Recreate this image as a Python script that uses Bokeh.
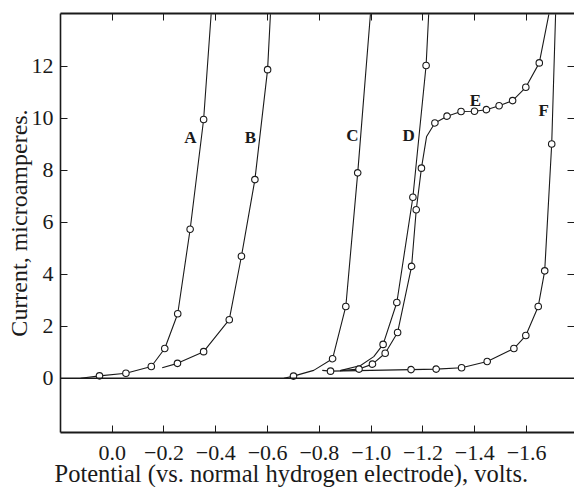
import math
from bokeh.plotting import figure
from bokeh.models import Range1d, LinearAxis, FixedTicker, Span, Label, Title, CustomJSTickFormatter
from bokeh.embed import file_html
from bokeh.resources import INLINE

# Potential (volts vs. NHE) and current (microamperes)
a_line_v = [0.122, 0.049, -0.053, -0.151, -0.203, -0.253, -0.301, -0.353, -0.382]
a_line_i = [0.00, 0.09, 0.19, 0.45, 1.14, 2.48, 5.73, 9.95, 14.0]
a_pts_v = [0.049, -0.053, -0.151, -0.203, -0.253, -0.301, -0.353]
a_pts_i = [0.09, 0.19, 0.45, 1.14, 2.48, 5.73, 9.95]

b_line_v = [-0.193, -0.252, -0.353, -0.452, -0.499, -0.551, -0.600, -0.611]
b_line_i = [0.40, 0.57, 1.02, 2.25, 4.69, 7.64, 11.87, 14.0]
b_pts_v = [-0.252, -0.353, -0.452, -0.499, -0.551, -0.600]
b_pts_i = [0.57, 1.02, 2.25, 4.69, 7.64, 11.87]

c_line_v = [-0.663, -0.700, -0.778, -0.851, -0.902, -0.948, -0.997]
c_line_i = [0.00, 0.08, 0.30, 0.75, 2.76, 7.90, 14.0]
c_pts_v = [-0.700, -0.851, -0.902, -0.948]
c_pts_i = [0.08, 0.75, 2.76, 7.90]

d_line_v = [-0.880, -0.959, -1.010, -1.046, -1.099, -1.161, -1.212, -1.222]
d_line_i = [0.29, 0.49, 0.83, 1.30, 2.91, 6.96, 12.03, 14.0]
d_pts_v = [-1.046, -1.099, -1.161, -1.212]
d_pts_i = [1.30, 2.91, 6.96, 12.03]

e_line_v = [-0.880, -0.953, -1.005, -1.054, -1.102, -1.156, -1.174, -1.194, -1.214,
            -1.246, -1.293, -1.347, -1.399, -1.445, -1.494, -1.546, -1.597, -1.649, -1.686]
e_line_i = [0.29, 0.35, 0.54, 0.96, 1.76, 4.30, 6.48, 8.08, 9.30,
            9.82, 10.08, 10.26, 10.27, 10.33, 10.48, 10.68, 11.19, 12.13, 14.0]
e_pts_v = [-0.953, -1.005, -1.054, -1.102, -1.156, -1.174, -1.194,
           -1.246, -1.293, -1.347, -1.399, -1.445, -1.494, -1.546, -1.597, -1.649]
e_pts_i = [0.35, 0.54, 0.96, 1.76, 4.30, 6.48, 8.08,
           9.82, 10.08, 10.26, 10.27, 10.33, 10.48, 10.68, 11.19, 12.13]

f_line_v = [-0.811, -0.843, -1.154, -1.251, -1.349, -1.448, -1.551, -1.597, -1.645, -1.670, -1.697, -1.712]
f_line_i = [0.30, 0.27, 0.33, 0.35, 0.40, 0.64, 1.14, 1.64, 2.76, 4.13, 9.01, 14.0]
f_pts_v = [-0.843, -1.154, -1.251, -1.349, -1.448, -1.551, -1.597, -1.645, -1.670, -1.697]
f_pts_i = [0.27, 0.33, 0.35, 0.40, 0.64, 1.14, 1.64, 2.76, 4.13, 9.01]

curve_names = ["A", "B", "C", "D", "E", "F"]
name_v = [-0.302, -0.534, -0.927, -1.145, -1.402, -1.666]
name_i = [9.27, 9.27, 9.33, 9.33, 10.68, 10.28]

x_tick_values = [0.0, -0.2, -0.4, -0.6, -0.8, -1.0, -1.2, -1.4, -1.6]
x_tick_labels = ["0.0", "\u22120.2", "\u22120.4", "\u22120.6", "\u22120.8",
                 "\u22121.0", "\u22121.2", "\u22121.4", "\u22121.6"]
y_tick_values = [0, 2, 4, 6, 8, 10, 12]

FONT = "Liberation Serif"
INK = "#1a1a1a"

p = figure(width=574, height=487, output_backend="svg", toolbar_location=None,
           x_range=Range1d(0.1996, -1.785), y_range=Range1d(-2.09, 14.03),
           min_border_left=60, min_border_right=0, min_border_top=13, min_border_bottom=55,
           x_axis_location=None, y_axis_location=None)
p.grid.visible = False
p.outline_line_color = None
p.background_fill_color = "white"
p.border_fill_color = "white"

blank = CustomJSTickFormatter(code="return '';")

def style_axis(ax, show_labels, line=True, width=1.6):
    ax.major_tick_in = 7
    ax.major_tick_out = 0
    ax.minor_tick_in = 0
    ax.minor_tick_out = 0
    ax.major_tick_line_color = INK
    ax.major_tick_line_width = 1
    ax.axis_line_color = INK if line else None
    ax.axis_line_width = width
    ax.major_label_text_font = FONT
    ax.major_label_text_color = INK
    ax.axis_label_text_font = FONT
    ax.axis_label_text_font_style = "normal"
    ax.axis_label_text_color = INK
    if not show_labels:
        ax.formatter = blank
        ax.major_label_standoff = 0

bottom = LinearAxis(ticker=FixedTicker(ticks=x_tick_values))
bottom.major_label_overrides = dict(zip(x_tick_values, x_tick_labels))
style_axis(bottom, True, width=2)
bottom.major_label_text_font_size = "22px"
bottom.major_label_standoff = 13
p.add_layout(bottom, "below")

top = LinearAxis(ticker=FixedTicker(ticks=x_tick_values))
style_axis(top, False, width=2)
p.add_layout(top, "above")

left = LinearAxis(ticker=FixedTicker(ticks=y_tick_values))
style_axis(left, True, width=1.6)
left.major_label_text_font_size = "22px"
left.major_label_standoff = 7
left.axis_label = "Current, microamperes."
left.axis_label_text_font_size = "24px"
left.axis_label_standoff = -3
p.add_layout(left, "left")

right = LinearAxis(ticker=FixedTicker(ticks=y_tick_values))
style_axis(right, False, line=False)
p.add_layout(right, "right")

p.add_layout(Title(text="Potential (vs. normal hydrogen electrode), volts.",
                   align="left", offset=-6, standoff=-9,
                   text_font=FONT, text_font_size="24.5px", text_font_style="normal",
                   text_color=INK), "below")

p.add_layout(Span(location=0, dimension="width", line_color=INK, line_width=1.6))

curves = [
    (a_line_v, a_line_i, a_pts_v, a_pts_i),
    (b_line_v, b_line_i, b_pts_v, b_pts_i),
    (c_line_v, c_line_i, c_pts_v, c_pts_i),
    (d_line_v, d_line_i, d_pts_v, d_pts_i),
    (e_line_v, e_line_i, e_pts_v, e_pts_i),
    (f_line_v, f_line_i, f_pts_v, f_pts_i),
]
for lv, li, pv, pi_ in curves:
    p.line(lv, li, line_color=INK, line_width=1.1)
for lv, li, pv, pi_ in curves:
    p.scatter(pv, pi_, marker="circle", size=6.5, fill_color="white",
              line_color=INK, line_width=1.1)

for nm, v, i in zip(curve_names, name_v, name_i):
    p.add_layout(Label(x=v, y=i, text=nm, text_font=FONT, text_font_size="17px",
                       text_font_style="bold", text_color=INK,
                       text_align="center", text_baseline="middle"))

open("out.html", "w").write(file_html(p, INLINE))
